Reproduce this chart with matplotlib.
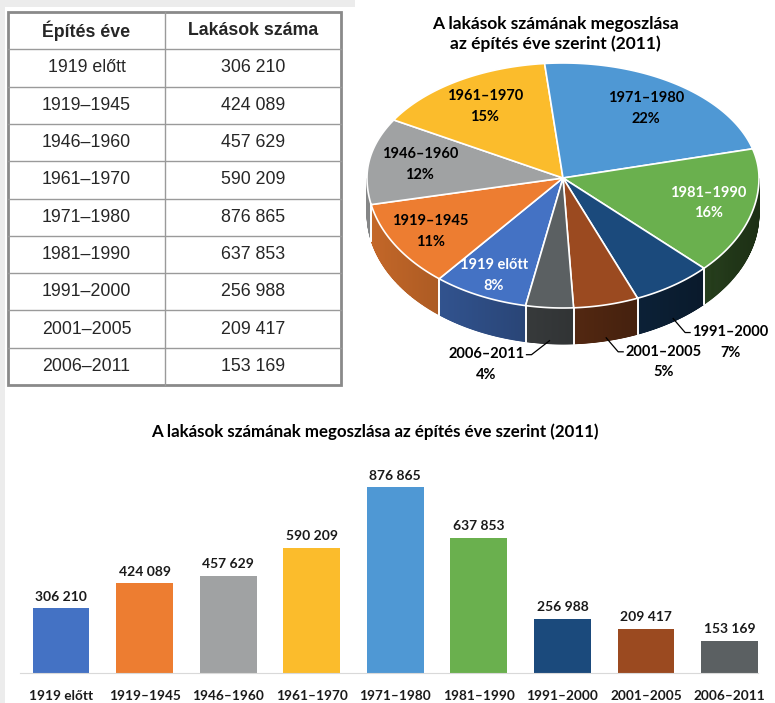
import numpy as np
import matplotlib.pyplot as plt
from matplotlib.patches import Polygon, Rectangle

periods = ['1919 előtt', '1919–1945', '1946–1960', '1961–1970', '1971–1980',
           '1981–1990', '1991–2000', '2001–2005', '2006–2011']
homes = [306210, 424089, 457629, 590209, 876865, 637853, 256988, 209417, 153169]
colors = ['#4472C4', '#ED7D31', '#A0A2A3', '#FBBC2C', '#4F98D4',
          '#6AB04E', '#1B4A7C', '#9B4A20', '#5B6062']
white_labels = {'1919 előtt', '1981–1990'}

title = 'A lakások számának megoszlása az építés éve szerint (2011)'
pie_title = 'A lakások számának megoszlása\naz építés éve szerint (2011)'
table_head = ['Építés éve', 'Lakások száma']


def fmt(v):
    return f'{v:,}'.replace(',', ' ')


W, H = 775, 703
fig = plt.figure(figsize=(W / 100, H / 100), dpi=100)
base = fig.add_axes([0, 0, 1, 1])
base.set_xlim(0, W)
base.set_ylim(H, 0)
base.axis('off')

# screenshot edges
base.add_patch(Rectangle((0, 0), 355, 7, color='#ececec', lw=0))
base.add_patch(Rectangle((0, 0), 5, H, color='#ececec', lw=0))

# ---- table ----
tx0, tx1, tmid = 8, 341, 165
ty0, ty1 = 12, 385
rh = (ty1 - ty0) / (len(periods) + 1)
for k in range(1, len(periods) + 1):
    base.plot([tx0, tx1], [ty0 + k * rh] * 2, color='#9a9a9a', lw=1)
base.plot([tmid, tmid], [ty0, ty1], color='#9a9a9a', lw=1)
base.add_patch(Rectangle((tx0, ty0), tx1 - tx0, ty1 - ty0, fill=False,
                         ec='#8a8a8a', lw=2))
c1, c2 = (tx0 + tmid) / 2, (tmid + tx1) / 2
tfont = dict(family='Liberation Sans', fontsize=12.8, color='#262626',
             ha='center', va='center')
base.text(c1, ty0 + rh / 2, table_head[0], fontweight='bold', **tfont)
base.text(c2, ty0 + rh / 2, table_head[1], fontweight='bold', **tfont)
for k, (p, v) in enumerate(zip(periods, homes)):
    y = ty0 + (k + 1.5) * rh
    base.text(c1, y, p, **tfont)
    base.text(c2, y, fmt(v), **tfont)

# ---- 3D pie (drawn in pixel coordinates) ----
cx, cy, rx, ry_top, ry_bot, depth = 563, 178, 196, 115, 130, 36
start = 259


def pt(t, r=1.0):
    t = np.radians(t)
    s = np.sin(t)
    ry = np.where(s > 0, ry_top, ry_bot)
    return cx + rx * r * np.cos(t), cy - r * s * ry


def shade(c, f):
    rgb = np.array(plt.matplotlib.colors.to_rgb(c))
    return tuple(rgb * f)


vals = np.array(homes, dtype=float)
frac = vals / vals.sum()
a1s = start - 360 * np.concatenate([[0], np.cumsum(frac)[:-1]])
a2s = a1s - 360 * frac

# side walls
for a1, a2, c in zip(a1s, a2s, colors):
    ts = np.linspace(a1, a2, 120)
    for i in range(len(ts) - 1):
        tm = (ts[i] + ts[i + 1]) / 2
        if np.sin(np.radians(tm)) > 0:
            continue
        xs, ys = pt(np.array([ts[i], ts[i + 1]]))
        poly = [(xs[0], ys[0]), (xs[1], ys[1]),
                (xs[1], ys[1] + depth), (xs[0], ys[0] + depth)]
        fc = shade(c, 0.55 - 0.28 * np.cos(np.radians(tm)))
        base.add_patch(Polygon(poly, fc=fc, ec=fc, lw=0.6))
    for a in (a1, a2):
        if np.sin(np.radians(a)) < 0:
            x, y = pt(a)
            base.plot([x, x], [y, y + depth], color='white', lw=1.2)

# top faces
for a1, a2, c in zip(a1s, a2s, colors):
    ts = np.linspace(a1, a2, 150)
    xs, ys = pt(ts)
    poly = [(cx, cy)] + list(zip(xs, ys))
    base.add_patch(Polygon(poly, fc=c, ec='white', lw=1.2, joinstyle='round'))

lfont = dict(family='Lato', fontsize=10.5, fontweight='bold', ha='center',
             va='center', linespacing=1.6)
for p, f, a1, a2 in zip(periods, frac, a1s, a2s):
    mid = (a1 + a2) / 2
    txt = f'{p}\n{round(f * 100):.0f}%'
    s = np.sin(np.radians(mid))
    if f >= 0.07:
        # front labels sit a bit further out (perspective)
        x, y = pt(mid, 0.74 + 0.1 * max(0.0, -s))
        base.text(x, y, txt, color='white' if p in white_labels else 'black',
                  **lfont)
    else:
        x, y = pt(mid)
        y = y + depth - 3
        sgn = 1 if np.cos(np.radians(mid)) > 0 else -1
        dx = 12 if sgn > 0 else 18
        ex, ey = x + sgn * dx, y + 14
        base.plot([x, ex, ex + sgn * 5], [y, ey, ey], color='black', lw=0.9)
        base.text(ex + sgn * 7, ey + 10, txt, color='black',
                  multialignment='center',
                  **{**lfont, 'ha': 'left' if sgn > 0 else 'right'})

base.text(555, 34, pie_title, family='Lato', fontsize=12.5, fontweight='bold',
          ha='center', va='center', linespacing=1.3)

# ---- bar chart ----
ax = fig.add_axes([20 / W, 30 / H, 738 / W, 212 / H])
x = np.arange(len(periods))
bars = ax.bar(x, homes, width=0.68, color=colors)
ax.set_xlim(-0.49, 8.34)
ax.set_ylim(0, 1_000_000)
ax.bar_label(bars, labels=[fmt(v) for v in homes], padding=4,
             family='Lato', fontsize=10, fontweight='bold', color='#1a1a1a')
ax.set_xticks(x)
ax.set_xticklabels(periods, family='Lato', fontsize=9.8, fontweight='bold',
                   color='#1a1a1a')
ax.tick_params(axis='x', length=0, pad=12)
ax.set_yticks([])
for s in ('top', 'right', 'left'):
    ax.spines[s].set_visible(False)
ax.spines['bottom'].set_color('#d9d9d9')
ax.set_facecolor('none')

fig.text(375 / W, 1 - 432 / H, title, family='Lato', fontsize=12.2,
         fontweight='bold', ha='center', va='center')

fig.savefig('out.png', dpi=100, facecolor='white')
